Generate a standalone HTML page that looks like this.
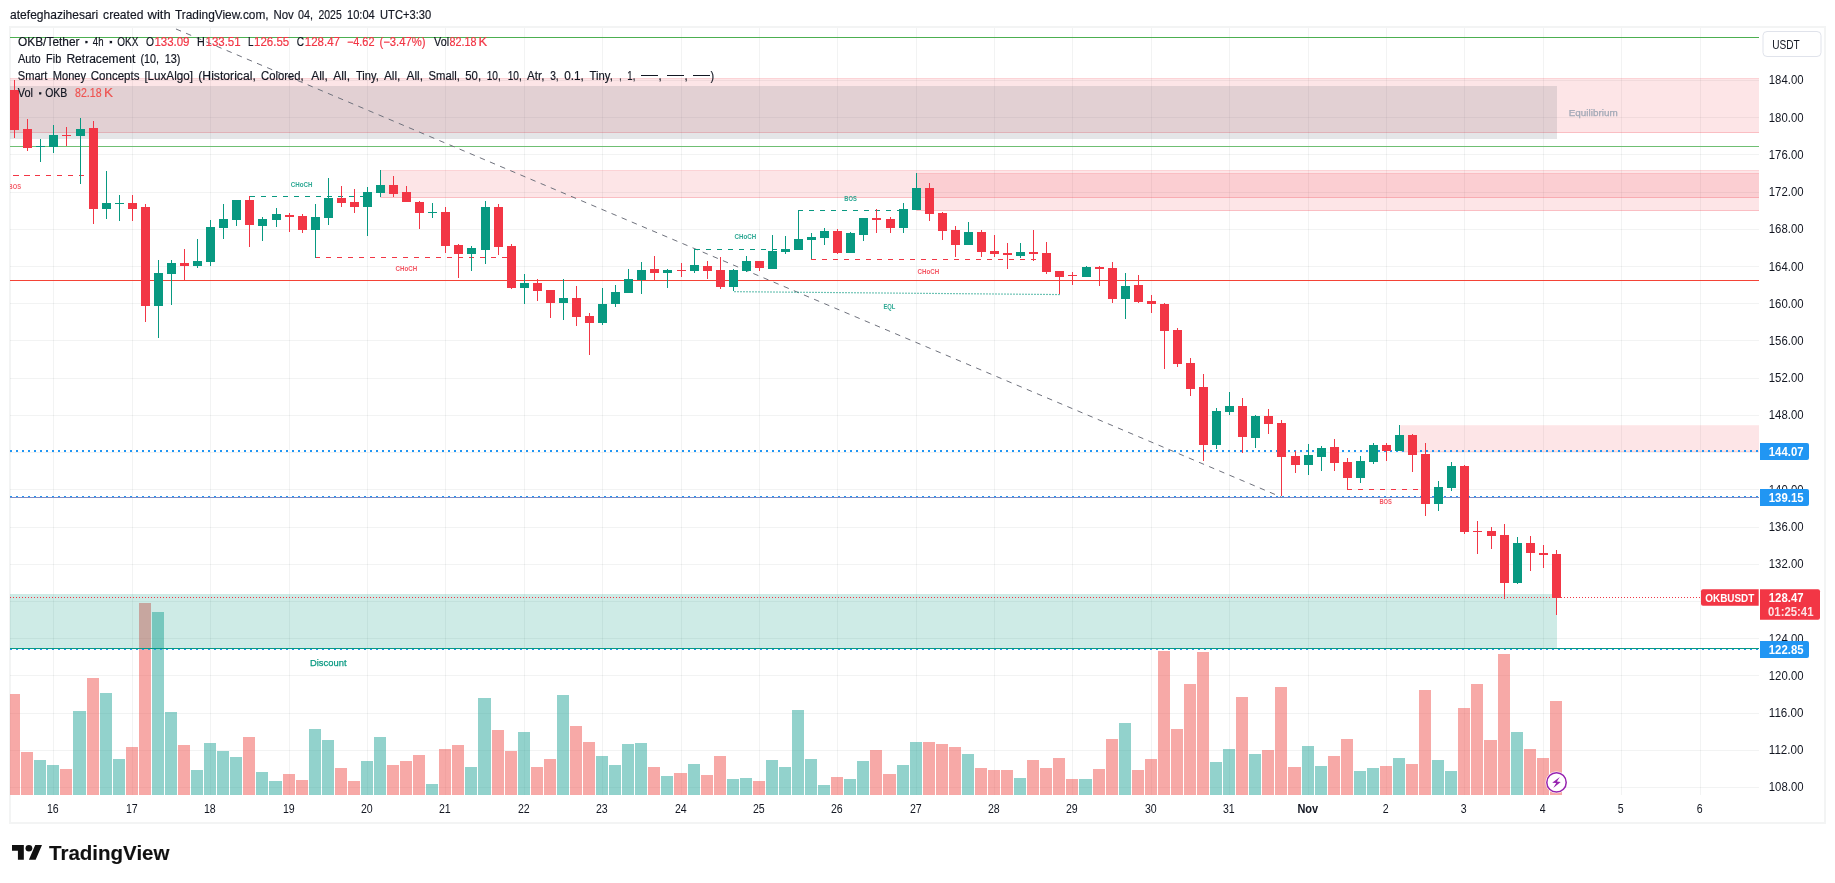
<!DOCTYPE html>
<html><head><meta charset="utf-8"><title>OKBUSDT chart</title>
<style>
html,body{margin:0;padding:0;background:#fff;}
body{width:1835px;height:883px;overflow:hidden;position:relative;font-family:"Liberation Sans",sans-serif;}
svg text{font-family:"Liberation Sans",sans-serif;}
</style></head><body>
<svg width="1835" height="883" viewBox="0 0 1835 883" style="position:absolute;left:0;top:0;will-change:transform">
<defs><clipPath id="pane"><rect x="10" y="28" width="1749" height="767"/></clipPath></defs>
<rect width="1835" height="883" fill="#fff"/>
<rect x="10" y="27" width="1815" height="796" fill="none" stroke="#f3f4f4" stroke-width="2" shape-rendering="crispEdges"/>
<g shape-rendering="crispEdges" stroke="#1e3232" stroke-opacity="0.058" stroke-width="1">
<line x1="10" y1="787.5" x2="1759" y2="787.5"/>
<line x1="10" y1="750.5" x2="1759" y2="750.5"/>
<line x1="10" y1="713.5" x2="1759" y2="713.5"/>
<line x1="10" y1="675.5" x2="1759" y2="675.5"/>
<line x1="10" y1="638.5" x2="1759" y2="638.5"/>
<line x1="10" y1="601.5" x2="1759" y2="601.5"/>
<line x1="10" y1="564.5" x2="1759" y2="564.5"/>
<line x1="10" y1="527.5" x2="1759" y2="527.5"/>
<line x1="10" y1="489.5" x2="1759" y2="489.5"/>
<line x1="10" y1="452.5" x2="1759" y2="452.5"/>
<line x1="10" y1="415.5" x2="1759" y2="415.5"/>
<line x1="10" y1="378.5" x2="1759" y2="378.5"/>
<line x1="10" y1="340.5" x2="1759" y2="340.5"/>
<line x1="10" y1="303.5" x2="1759" y2="303.5"/>
<line x1="10" y1="266.5" x2="1759" y2="266.5"/>
<line x1="10" y1="229.5" x2="1759" y2="229.5"/>
<line x1="10" y1="192.5" x2="1759" y2="192.5"/>
<line x1="10" y1="154.5" x2="1759" y2="154.5"/>
<line x1="10" y1="117.5" x2="1759" y2="117.5"/>
<line x1="10" y1="80.5" x2="1759" y2="80.5"/>
<line x1="53.5" y1="28" x2="53.5" y2="795"/>
<line x1="132.5" y1="28" x2="132.5" y2="795"/>
<line x1="210.5" y1="28" x2="210.5" y2="795"/>
<line x1="289.5" y1="28" x2="289.5" y2="795"/>
<line x1="367.5" y1="28" x2="367.5" y2="795"/>
<line x1="445.5" y1="28" x2="445.5" y2="795"/>
<line x1="524.5" y1="28" x2="524.5" y2="795"/>
<line x1="602.5" y1="28" x2="602.5" y2="795"/>
<line x1="681.5" y1="28" x2="681.5" y2="795"/>
<line x1="759.5" y1="28" x2="759.5" y2="795"/>
<line x1="837.5" y1="28" x2="837.5" y2="795"/>
<line x1="916.5" y1="28" x2="916.5" y2="795"/>
<line x1="994.5" y1="28" x2="994.5" y2="795"/>
<line x1="1072.5" y1="28" x2="1072.5" y2="795"/>
<line x1="1151.5" y1="28" x2="1151.5" y2="795"/>
<line x1="1229.5" y1="28" x2="1229.5" y2="795"/>
<line x1="1308.5" y1="28" x2="1308.5" y2="795"/>
<line x1="1386.5" y1="28" x2="1386.5" y2="795"/>
<line x1="1464.5" y1="28" x2="1464.5" y2="795"/>
<line x1="1543.5" y1="28" x2="1543.5" y2="795"/>
<line x1="1621.5" y1="28" x2="1621.5" y2="795"/>
<line x1="1700.5" y1="28" x2="1700.5" y2="795"/>
</g>
<g clip-path="url(#pane)">
<g shape-rendering="crispEdges">
<rect x="8" y="694" width="12" height="101" fill="rgba(239,83,80,0.5)"/>
<rect x="21" y="752" width="12" height="43" fill="rgba(239,83,80,0.5)"/>
<rect x="34" y="760" width="12" height="35" fill="rgba(38,166,154,0.5)"/>
<rect x="47" y="765" width="12" height="30" fill="rgba(38,166,154,0.5)"/>
<rect x="60" y="769" width="12" height="26" fill="rgba(239,83,80,0.5)"/>
<rect x="73" y="711" width="13" height="84" fill="rgba(38,166,154,0.5)"/>
<rect x="87" y="678" width="12" height="117" fill="rgba(239,83,80,0.5)"/>
<rect x="100" y="693" width="12" height="102" fill="rgba(38,166,154,0.5)"/>
<rect x="113" y="759" width="12" height="36" fill="rgba(38,166,154,0.5)"/>
<rect x="126" y="747" width="12" height="48" fill="rgba(239,83,80,0.5)"/>
<rect x="139" y="603" width="12" height="192" fill="rgba(239,83,80,0.5)"/>
<rect x="152" y="612" width="12" height="183" fill="rgba(38,166,154,0.5)"/>
<rect x="165" y="712" width="12" height="83" fill="rgba(38,166,154,0.5)"/>
<rect x="178" y="745" width="12" height="50" fill="rgba(239,83,80,0.5)"/>
<rect x="191" y="770" width="12" height="25" fill="rgba(38,166,154,0.5)"/>
<rect x="204" y="743" width="12" height="52" fill="rgba(38,166,154,0.5)"/>
<rect x="217" y="751" width="12" height="44" fill="rgba(38,166,154,0.5)"/>
<rect x="230" y="757" width="12" height="38" fill="rgba(38,166,154,0.5)"/>
<rect x="243" y="737" width="12" height="58" fill="rgba(239,83,80,0.5)"/>
<rect x="256" y="772" width="12" height="23" fill="rgba(38,166,154,0.5)"/>
<rect x="269" y="781" width="13" height="14" fill="rgba(38,166,154,0.5)"/>
<rect x="283" y="774" width="12" height="21" fill="rgba(239,83,80,0.5)"/>
<rect x="296" y="780" width="12" height="15" fill="rgba(239,83,80,0.5)"/>
<rect x="309" y="729" width="12" height="66" fill="rgba(38,166,154,0.5)"/>
<rect x="322" y="740" width="12" height="55" fill="rgba(38,166,154,0.5)"/>
<rect x="335" y="768" width="12" height="27" fill="rgba(239,83,80,0.5)"/>
<rect x="348" y="781" width="12" height="14" fill="rgba(239,83,80,0.5)"/>
<rect x="361" y="761" width="12" height="34" fill="rgba(38,166,154,0.5)"/>
<rect x="374" y="737" width="12" height="58" fill="rgba(38,166,154,0.5)"/>
<rect x="387" y="765" width="12" height="30" fill="rgba(239,83,80,0.5)"/>
<rect x="400" y="761" width="12" height="34" fill="rgba(239,83,80,0.5)"/>
<rect x="413" y="755" width="12" height="40" fill="rgba(239,83,80,0.5)"/>
<rect x="426" y="784" width="12" height="11" fill="rgba(38,166,154,0.5)"/>
<rect x="439" y="749" width="12" height="46" fill="rgba(239,83,80,0.5)"/>
<rect x="452" y="745" width="12" height="50" fill="rgba(239,83,80,0.5)"/>
<rect x="465" y="767" width="12" height="28" fill="rgba(38,166,154,0.5)"/>
<rect x="478" y="698" width="13" height="97" fill="rgba(38,166,154,0.5)"/>
<rect x="492" y="730" width="12" height="65" fill="rgba(239,83,80,0.5)"/>
<rect x="505" y="751" width="12" height="44" fill="rgba(239,83,80,0.5)"/>
<rect x="518" y="732" width="12" height="63" fill="rgba(38,166,154,0.5)"/>
<rect x="531" y="767" width="12" height="28" fill="rgba(239,83,80,0.5)"/>
<rect x="544" y="759" width="12" height="36" fill="rgba(239,83,80,0.5)"/>
<rect x="557" y="695" width="12" height="100" fill="rgba(38,166,154,0.5)"/>
<rect x="570" y="726" width="12" height="69" fill="rgba(239,83,80,0.5)"/>
<rect x="583" y="742" width="12" height="53" fill="rgba(239,83,80,0.5)"/>
<rect x="596" y="756" width="12" height="39" fill="rgba(38,166,154,0.5)"/>
<rect x="609" y="765" width="12" height="30" fill="rgba(38,166,154,0.5)"/>
<rect x="622" y="744" width="12" height="51" fill="rgba(38,166,154,0.5)"/>
<rect x="635" y="743" width="12" height="52" fill="rgba(38,166,154,0.5)"/>
<rect x="648" y="767" width="12" height="28" fill="rgba(239,83,80,0.5)"/>
<rect x="661" y="776" width="12" height="19" fill="rgba(38,166,154,0.5)"/>
<rect x="674" y="773" width="13" height="22" fill="rgba(239,83,80,0.5)"/>
<rect x="688" y="764" width="12" height="31" fill="rgba(38,166,154,0.5)"/>
<rect x="701" y="775" width="12" height="20" fill="rgba(239,83,80,0.5)"/>
<rect x="714" y="756" width="12" height="39" fill="rgba(239,83,80,0.5)"/>
<rect x="727" y="779" width="12" height="16" fill="rgba(38,166,154,0.5)"/>
<rect x="740" y="778" width="12" height="17" fill="rgba(38,166,154,0.5)"/>
<rect x="753" y="781" width="12" height="14" fill="rgba(239,83,80,0.5)"/>
<rect x="766" y="760" width="12" height="35" fill="rgba(38,166,154,0.5)"/>
<rect x="779" y="767" width="12" height="28" fill="rgba(38,166,154,0.5)"/>
<rect x="792" y="710" width="12" height="85" fill="rgba(38,166,154,0.5)"/>
<rect x="805" y="759" width="12" height="36" fill="rgba(38,166,154,0.5)"/>
<rect x="818" y="785" width="12" height="10" fill="rgba(38,166,154,0.5)"/>
<rect x="831" y="777" width="12" height="18" fill="rgba(239,83,80,0.5)"/>
<rect x="844" y="779" width="12" height="16" fill="rgba(38,166,154,0.5)"/>
<rect x="857" y="761" width="12" height="34" fill="rgba(38,166,154,0.5)"/>
<rect x="870" y="750" width="12" height="45" fill="rgba(239,83,80,0.5)"/>
<rect x="883" y="774" width="13" height="21" fill="rgba(239,83,80,0.5)"/>
<rect x="897" y="765" width="12" height="30" fill="rgba(38,166,154,0.5)"/>
<rect x="910" y="742" width="12" height="53" fill="rgba(38,166,154,0.5)"/>
<rect x="923" y="742" width="12" height="53" fill="rgba(239,83,80,0.5)"/>
<rect x="936" y="744" width="12" height="51" fill="rgba(239,83,80,0.5)"/>
<rect x="949" y="747" width="12" height="48" fill="rgba(239,83,80,0.5)"/>
<rect x="962" y="754" width="12" height="41" fill="rgba(38,166,154,0.5)"/>
<rect x="975" y="768" width="12" height="27" fill="rgba(239,83,80,0.5)"/>
<rect x="988" y="770" width="12" height="25" fill="rgba(239,83,80,0.5)"/>
<rect x="1001" y="770" width="12" height="25" fill="rgba(239,83,80,0.5)"/>
<rect x="1014" y="778" width="12" height="17" fill="rgba(38,166,154,0.5)"/>
<rect x="1027" y="760" width="12" height="35" fill="rgba(239,83,80,0.5)"/>
<rect x="1040" y="768" width="12" height="27" fill="rgba(239,83,80,0.5)"/>
<rect x="1053" y="758" width="12" height="37" fill="rgba(239,83,80,0.5)"/>
<rect x="1066" y="779" width="12" height="16" fill="rgba(239,83,80,0.5)"/>
<rect x="1079" y="779" width="13" height="16" fill="rgba(38,166,154,0.5)"/>
<rect x="1093" y="769" width="12" height="26" fill="rgba(239,83,80,0.5)"/>
<rect x="1106" y="739" width="12" height="56" fill="rgba(239,83,80,0.5)"/>
<rect x="1119" y="723" width="12" height="72" fill="rgba(38,166,154,0.5)"/>
<rect x="1132" y="770" width="12" height="25" fill="rgba(239,83,80,0.5)"/>
<rect x="1145" y="759" width="12" height="36" fill="rgba(239,83,80,0.5)"/>
<rect x="1158" y="651" width="12" height="144" fill="rgba(239,83,80,0.5)"/>
<rect x="1171" y="729" width="12" height="66" fill="rgba(239,83,80,0.5)"/>
<rect x="1184" y="684" width="12" height="111" fill="rgba(239,83,80,0.5)"/>
<rect x="1197" y="652" width="12" height="143" fill="rgba(239,83,80,0.5)"/>
<rect x="1210" y="762" width="12" height="33" fill="rgba(38,166,154,0.5)"/>
<rect x="1223" y="749" width="12" height="46" fill="rgba(38,166,154,0.5)"/>
<rect x="1236" y="697" width="12" height="98" fill="rgba(239,83,80,0.5)"/>
<rect x="1249" y="754" width="12" height="41" fill="rgba(38,166,154,0.5)"/>
<rect x="1262" y="750" width="12" height="45" fill="rgba(239,83,80,0.5)"/>
<rect x="1275" y="687" width="12" height="108" fill="rgba(239,83,80,0.5)"/>
<rect x="1288" y="767" width="13" height="28" fill="rgba(239,83,80,0.5)"/>
<rect x="1302" y="746" width="12" height="49" fill="rgba(38,166,154,0.5)"/>
<rect x="1315" y="766" width="12" height="29" fill="rgba(38,166,154,0.5)"/>
<rect x="1328" y="756" width="12" height="39" fill="rgba(239,83,80,0.5)"/>
<rect x="1341" y="739" width="12" height="56" fill="rgba(239,83,80,0.5)"/>
<rect x="1354" y="771" width="12" height="24" fill="rgba(38,166,154,0.5)"/>
<rect x="1367" y="768" width="12" height="27" fill="rgba(38,166,154,0.5)"/>
<rect x="1380" y="766" width="12" height="29" fill="rgba(239,83,80,0.5)"/>
<rect x="1393" y="758" width="12" height="37" fill="rgba(38,166,154,0.5)"/>
<rect x="1406" y="764" width="12" height="31" fill="rgba(239,83,80,0.5)"/>
<rect x="1419" y="690" width="12" height="105" fill="rgba(239,83,80,0.5)"/>
<rect x="1432" y="760" width="12" height="35" fill="rgba(38,166,154,0.5)"/>
<rect x="1445" y="771" width="12" height="24" fill="rgba(38,166,154,0.5)"/>
<rect x="1458" y="708" width="12" height="87" fill="rgba(239,83,80,0.5)"/>
<rect x="1471" y="684" width="12" height="111" fill="rgba(239,83,80,0.5)"/>
<rect x="1484" y="740" width="13" height="55" fill="rgba(239,83,80,0.5)"/>
<rect x="1498" y="654" width="12" height="141" fill="rgba(239,83,80,0.5)"/>
<rect x="1511" y="732" width="12" height="63" fill="rgba(38,166,154,0.5)"/>
<rect x="1524" y="749" width="12" height="46" fill="rgba(239,83,80,0.5)"/>
<rect x="1537" y="758" width="12" height="37" fill="rgba(239,83,80,0.5)"/>
<rect x="1550" y="701" width="12" height="94" fill="rgba(239,83,80,0.5)"/>
</g>
<g shape-rendering="crispEdges">
<rect x="8" y="78.5" width="1751" height="54" fill="rgba(242,54,69,0.13)" stroke="rgba(242,54,69,0.22)" stroke-width="1"/>
<rect x="8" y="86" width="1549" height="53" fill="rgba(120,123,134,0.2)"/>
<rect x="380.5" y="170.5" width="1379.0" height="27" fill="rgba(242,54,69,0.13)" stroke="rgba(242,54,69,0.22)" stroke-width="1"/>
<rect x="916.5" y="173.5" width="843.0" height="37" fill="rgba(242,54,69,0.13)" stroke="rgba(242,54,69,0.22)" stroke-width="1"/>
<rect x="1400.5" y="425.5" width="359.0" height="26" fill="rgba(242,54,69,0.13)" stroke="rgba(242,54,69,0.1)" stroke-width="1"/>
<rect x="8" y="594" width="1549" height="55" fill="rgba(8,153,129,0.2)"/>
</g>
<g shape-rendering="crispEdges">
<line x1="10" y1="37.5" x2="1759" y2="37.5" stroke="#4caf50" stroke-width="1"/>
<line x1="10" y1="146.5" x2="1759" y2="146.5" stroke="#6fbf73" stroke-width="1"/>
<line x1="10" y1="280.5" x2="1759" y2="280.5" stroke="#f44336" stroke-width="1"/>
<line x1="10" y1="451" x2="1759" y2="451" stroke="#2196f3" stroke-width="2" stroke-dasharray="2 4"/>
<line x1="10" y1="497" x2="1759" y2="497" stroke="#2196f3" stroke-width="2" stroke-dasharray="2 4"/>
<line x1="10" y1="649" x2="1759" y2="649" stroke="#2196f3" stroke-width="2" stroke-dasharray="2 4"/>
<line x1="10" y1="648.5" x2="1759" y2="648.5" stroke="#089981" stroke-width="1"/>
<line x1="10" y1="497.5" x2="1759" y2="497.5" stroke="#7b8bc7" stroke-width="1"/>
</g>
<line x1="1281.5" y1="497.2" x2="172" y2="27.3" stroke="#6f727d" stroke-width="1" stroke-dasharray="5.5 5.5" stroke-dashoffset="3.9"/>
<line x1="84.0" y1="175.5" x2="10.0" y2="175.5" stroke="#f23645" stroke-width="1" stroke-dasharray="5.45 5.45" shape-rendering="crispEdges"/>
<line x1="250.0" y1="196.5" x2="371.0" y2="196.5" stroke="#089981" stroke-width="1" stroke-dasharray="5 6" shape-rendering="crispEdges"/>
<line x1="314.5" y1="257.5" x2="511.0" y2="257.5" stroke="#f23645" stroke-width="1" stroke-dasharray="5 6" shape-rendering="crispEdges"/>
<line x1="694.5" y1="249.5" x2="798.0" y2="249.5" stroke="#089981" stroke-width="1" stroke-dasharray="5 6" shape-rendering="crispEdges"/>
<line x1="797.5" y1="210.5" x2="907.0" y2="210.5" stroke="#089981" stroke-width="1" stroke-dasharray="5 6" shape-rendering="crispEdges"/>
<line x1="810.5" y1="259.5" x2="1046.0" y2="259.5" stroke="#f23645" stroke-width="1" stroke-dasharray="5 6" shape-rendering="crispEdges"/>
<line x1="1346.5" y1="489.5" x2="1425.0" y2="489.5" stroke="#f23645" stroke-width="1" stroke-dasharray="5 6" shape-rendering="crispEdges"/>
<rect x="734" y="291.10" width="2" height="1.15" fill="#089981" opacity="0.6"/>
<rect x="737" y="291.13" width="2" height="1.15" fill="#089981" opacity="0.6"/>
<rect x="740" y="291.16" width="2" height="1.15" fill="#089981" opacity="0.6"/>
<rect x="743" y="291.18" width="2" height="1.15" fill="#089981" opacity="0.6"/>
<rect x="746" y="291.21" width="2" height="1.15" fill="#089981" opacity="0.6"/>
<rect x="749" y="291.24" width="2" height="1.15" fill="#089981" opacity="0.6"/>
<rect x="752" y="291.26" width="2" height="1.15" fill="#089981" opacity="0.6"/>
<rect x="755" y="291.29" width="2" height="1.15" fill="#089981" opacity="0.6"/>
<rect x="758" y="291.32" width="2" height="1.15" fill="#089981" opacity="0.6"/>
<rect x="761" y="291.34" width="2" height="1.15" fill="#089981" opacity="0.6"/>
<rect x="764" y="291.37" width="2" height="1.15" fill="#089981" opacity="0.6"/>
<rect x="767" y="291.40" width="2" height="1.15" fill="#089981" opacity="0.6"/>
<rect x="770" y="291.42" width="2" height="1.15" fill="#089981" opacity="0.6"/>
<rect x="773" y="291.45" width="2" height="1.15" fill="#089981" opacity="0.6"/>
<rect x="776" y="291.48" width="2" height="1.15" fill="#089981" opacity="0.6"/>
<rect x="779" y="291.50" width="2" height="1.15" fill="#089981" opacity="0.6"/>
<rect x="782" y="291.53" width="2" height="1.15" fill="#089981" opacity="0.6"/>
<rect x="785" y="291.56" width="2" height="1.15" fill="#089981" opacity="0.6"/>
<rect x="788" y="291.58" width="2" height="1.15" fill="#089981" opacity="0.6"/>
<rect x="791" y="291.61" width="2" height="1.15" fill="#089981" opacity="0.6"/>
<rect x="794" y="291.64" width="2" height="1.15" fill="#089981" opacity="0.6"/>
<rect x="797" y="291.66" width="2" height="1.15" fill="#089981" opacity="0.6"/>
<rect x="800" y="291.69" width="2" height="1.15" fill="#089981" opacity="0.6"/>
<rect x="803" y="291.72" width="2" height="1.15" fill="#089981" opacity="0.6"/>
<rect x="806" y="291.74" width="2" height="1.15" fill="#089981" opacity="0.6"/>
<rect x="809" y="291.77" width="2" height="1.15" fill="#089981" opacity="0.6"/>
<rect x="812" y="291.80" width="2" height="1.15" fill="#089981" opacity="0.6"/>
<rect x="815" y="291.82" width="2" height="1.15" fill="#089981" opacity="0.6"/>
<rect x="818" y="291.85" width="2" height="1.15" fill="#089981" opacity="0.6"/>
<rect x="821" y="291.88" width="2" height="1.15" fill="#089981" opacity="0.6"/>
<rect x="824" y="291.90" width="2" height="1.15" fill="#089981" opacity="0.6"/>
<rect x="827" y="291.93" width="2" height="1.15" fill="#089981" opacity="0.6"/>
<rect x="830" y="291.96" width="2" height="1.15" fill="#089981" opacity="0.6"/>
<rect x="833" y="291.98" width="2" height="1.15" fill="#089981" opacity="0.6"/>
<rect x="836" y="292.01" width="2" height="1.15" fill="#089981" opacity="0.6"/>
<rect x="839" y="292.04" width="2" height="1.15" fill="#089981" opacity="0.6"/>
<rect x="842" y="292.06" width="2" height="1.15" fill="#089981" opacity="0.6"/>
<rect x="845" y="292.09" width="2" height="1.15" fill="#089981" opacity="0.6"/>
<rect x="848" y="292.12" width="2" height="1.15" fill="#089981" opacity="0.6"/>
<rect x="851" y="292.14" width="2" height="1.15" fill="#089981" opacity="0.6"/>
<rect x="854" y="292.17" width="2" height="1.15" fill="#089981" opacity="0.6"/>
<rect x="857" y="292.20" width="2" height="1.15" fill="#089981" opacity="0.6"/>
<rect x="860" y="292.22" width="2" height="1.15" fill="#089981" opacity="0.6"/>
<rect x="863" y="292.25" width="2" height="1.15" fill="#089981" opacity="0.6"/>
<rect x="866" y="292.28" width="2" height="1.15" fill="#089981" opacity="0.6"/>
<rect x="869" y="292.30" width="2" height="1.15" fill="#089981" opacity="0.6"/>
<rect x="872" y="292.33" width="2" height="1.15" fill="#089981" opacity="0.6"/>
<rect x="875" y="292.36" width="2" height="1.15" fill="#089981" opacity="0.6"/>
<rect x="878" y="292.38" width="2" height="1.15" fill="#089981" opacity="0.6"/>
<rect x="881" y="292.41" width="2" height="1.15" fill="#089981" opacity="0.6"/>
<rect x="884" y="292.44" width="2" height="1.15" fill="#089981" opacity="0.6"/>
<rect x="887" y="292.46" width="2" height="1.15" fill="#089981" opacity="0.6"/>
<rect x="890" y="292.49" width="2" height="1.15" fill="#089981" opacity="0.6"/>
<rect x="893" y="292.52" width="2" height="1.15" fill="#089981" opacity="0.6"/>
<rect x="896" y="292.54" width="2" height="1.15" fill="#089981" opacity="0.6"/>
<rect x="899" y="292.57" width="2" height="1.15" fill="#089981" opacity="0.6"/>
<rect x="902" y="292.60" width="2" height="1.15" fill="#089981" opacity="0.6"/>
<rect x="905" y="292.62" width="2" height="1.15" fill="#089981" opacity="0.6"/>
<rect x="908" y="292.65" width="2" height="1.15" fill="#089981" opacity="0.6"/>
<rect x="911" y="292.68" width="2" height="1.15" fill="#089981" opacity="0.6"/>
<rect x="914" y="292.70" width="2" height="1.15" fill="#089981" opacity="0.6"/>
<rect x="917" y="292.73" width="2" height="1.15" fill="#089981" opacity="0.6"/>
<rect x="920" y="292.76" width="2" height="1.15" fill="#089981" opacity="0.6"/>
<rect x="923" y="292.78" width="2" height="1.15" fill="#089981" opacity="0.6"/>
<rect x="926" y="292.81" width="2" height="1.15" fill="#089981" opacity="0.6"/>
<rect x="929" y="292.84" width="2" height="1.15" fill="#089981" opacity="0.6"/>
<rect x="932" y="292.86" width="2" height="1.15" fill="#089981" opacity="0.6"/>
<rect x="935" y="292.89" width="2" height="1.15" fill="#089981" opacity="0.6"/>
<rect x="938" y="292.92" width="2" height="1.15" fill="#089981" opacity="0.6"/>
<rect x="941" y="292.94" width="2" height="1.15" fill="#089981" opacity="0.6"/>
<rect x="944" y="292.97" width="2" height="1.15" fill="#089981" opacity="0.6"/>
<rect x="947" y="293.00" width="2" height="1.15" fill="#089981" opacity="0.6"/>
<rect x="950" y="293.02" width="2" height="1.15" fill="#089981" opacity="0.6"/>
<rect x="953" y="293.05" width="2" height="1.15" fill="#089981" opacity="0.6"/>
<rect x="956" y="293.08" width="2" height="1.15" fill="#089981" opacity="0.6"/>
<rect x="959" y="293.10" width="2" height="1.15" fill="#089981" opacity="0.6"/>
<rect x="962" y="293.13" width="2" height="1.15" fill="#089981" opacity="0.6"/>
<rect x="965" y="293.16" width="2" height="1.15" fill="#089981" opacity="0.6"/>
<rect x="968" y="293.18" width="2" height="1.15" fill="#089981" opacity="0.6"/>
<rect x="971" y="293.21" width="2" height="1.15" fill="#089981" opacity="0.6"/>
<rect x="974" y="293.24" width="2" height="1.15" fill="#089981" opacity="0.6"/>
<rect x="977" y="293.26" width="2" height="1.15" fill="#089981" opacity="0.6"/>
<rect x="980" y="293.29" width="2" height="1.15" fill="#089981" opacity="0.6"/>
<rect x="983" y="293.32" width="2" height="1.15" fill="#089981" opacity="0.6"/>
<rect x="986" y="293.34" width="2" height="1.15" fill="#089981" opacity="0.6"/>
<rect x="989" y="293.37" width="2" height="1.15" fill="#089981" opacity="0.6"/>
<rect x="992" y="293.40" width="2" height="1.15" fill="#089981" opacity="0.6"/>
<rect x="995" y="293.42" width="2" height="1.15" fill="#089981" opacity="0.6"/>
<rect x="998" y="293.45" width="2" height="1.15" fill="#089981" opacity="0.6"/>
<rect x="1001" y="293.48" width="2" height="1.15" fill="#089981" opacity="0.6"/>
<rect x="1004" y="293.50" width="2" height="1.15" fill="#089981" opacity="0.6"/>
<rect x="1007" y="293.53" width="2" height="1.15" fill="#089981" opacity="0.6"/>
<rect x="1010" y="293.56" width="2" height="1.15" fill="#089981" opacity="0.6"/>
<rect x="1013" y="293.58" width="2" height="1.15" fill="#089981" opacity="0.6"/>
<rect x="1016" y="293.61" width="2" height="1.15" fill="#089981" opacity="0.6"/>
<rect x="1019" y="293.64" width="2" height="1.15" fill="#089981" opacity="0.6"/>
<rect x="1022" y="293.66" width="2" height="1.15" fill="#089981" opacity="0.6"/>
<rect x="1025" y="293.69" width="2" height="1.15" fill="#089981" opacity="0.6"/>
<rect x="1028" y="293.72" width="2" height="1.15" fill="#089981" opacity="0.6"/>
<rect x="1031" y="293.74" width="2" height="1.15" fill="#089981" opacity="0.6"/>
<rect x="1034" y="293.77" width="2" height="1.15" fill="#089981" opacity="0.6"/>
<rect x="1037" y="293.80" width="2" height="1.15" fill="#089981" opacity="0.6"/>
<rect x="1040" y="293.82" width="2" height="1.15" fill="#089981" opacity="0.6"/>
<rect x="1043" y="293.85" width="2" height="1.15" fill="#089981" opacity="0.6"/>
<rect x="1046" y="293.88" width="2" height="1.15" fill="#089981" opacity="0.6"/>
<rect x="1049" y="293.90" width="2" height="1.15" fill="#089981" opacity="0.6"/>
<rect x="1052" y="293.93" width="2" height="1.15" fill="#089981" opacity="0.6"/>
<rect x="1055" y="293.96" width="2" height="1.15" fill="#089981" opacity="0.6"/>
<rect x="1058" y="293.98" width="2" height="1.15" fill="#089981" opacity="0.6"/>
<g shape-rendering="crispEdges">
<rect x="14" y="80" width="1" height="58" fill="#f23645"/>
<rect x="10" y="90" width="9" height="40" fill="#f23645"/>
<rect x="27" y="119" width="1" height="32" fill="#f23645"/>
<rect x="23" y="129" width="9" height="19" fill="#f23645"/>
<rect x="40" y="139" width="1" height="23" fill="#089981"/>
<rect x="36" y="146" width="9" height="1" fill="#089981"/>
<rect x="53" y="125" width="1" height="28" fill="#089981"/>
<rect x="49" y="135" width="9" height="12" fill="#089981"/>
<rect x="66" y="127" width="1" height="19" fill="#f23645"/>
<rect x="62" y="135" width="9" height="1" fill="#f23645"/>
<rect x="80" y="118" width="1" height="66" fill="#089981"/>
<rect x="76" y="129" width="9" height="7" fill="#089981"/>
<rect x="93" y="121" width="1" height="103" fill="#f23645"/>
<rect x="89" y="128" width="9" height="81" fill="#f23645"/>
<rect x="106" y="171" width="1" height="48" fill="#089981"/>
<rect x="102" y="203" width="9" height="6" fill="#089981"/>
<rect x="119" y="195" width="1" height="26" fill="#089981"/>
<rect x="115" y="203" width="9" height="1" fill="#089981"/>
<rect x="132" y="195" width="1" height="26" fill="#f23645"/>
<rect x="128" y="203" width="9" height="6" fill="#f23645"/>
<rect x="145" y="204" width="1" height="118" fill="#f23645"/>
<rect x="141" y="207" width="9" height="99" fill="#f23645"/>
<rect x="158" y="260" width="1" height="78" fill="#089981"/>
<rect x="154" y="273" width="9" height="33" fill="#089981"/>
<rect x="171" y="260" width="1" height="45" fill="#089981"/>
<rect x="167" y="263" width="9" height="11" fill="#089981"/>
<rect x="184" y="249" width="1" height="31" fill="#f23645"/>
<rect x="180" y="263" width="9" height="3" fill="#f23645"/>
<rect x="197" y="239" width="1" height="29" fill="#089981"/>
<rect x="193" y="261" width="9" height="5" fill="#089981"/>
<rect x="210" y="220" width="1" height="46" fill="#089981"/>
<rect x="206" y="227" width="9" height="35" fill="#089981"/>
<rect x="223" y="204" width="1" height="35" fill="#089981"/>
<rect x="219" y="219" width="9" height="9" fill="#089981"/>
<rect x="236" y="200" width="1" height="26" fill="#089981"/>
<rect x="232" y="200" width="9" height="20" fill="#089981"/>
<rect x="249" y="196" width="1" height="51" fill="#f23645"/>
<rect x="245" y="200" width="9" height="25" fill="#f23645"/>
<rect x="262" y="217" width="1" height="24" fill="#089981"/>
<rect x="258" y="219" width="9" height="7" fill="#089981"/>
<rect x="276" y="208" width="1" height="19" fill="#089981"/>
<rect x="272" y="214" width="9" height="6" fill="#089981"/>
<rect x="289" y="213" width="1" height="19" fill="#f23645"/>
<rect x="285" y="215" width="9" height="2" fill="#f23645"/>
<rect x="302" y="214" width="1" height="19" fill="#f23645"/>
<rect x="298" y="216" width="9" height="14" fill="#f23645"/>
<rect x="315" y="204" width="1" height="54" fill="#089981"/>
<rect x="311" y="217" width="9" height="13" fill="#089981"/>
<rect x="328" y="178" width="1" height="47" fill="#089981"/>
<rect x="324" y="198" width="9" height="20" fill="#089981"/>
<rect x="341" y="186" width="1" height="21" fill="#f23645"/>
<rect x="337" y="198" width="9" height="5" fill="#f23645"/>
<rect x="354" y="189" width="1" height="24" fill="#f23645"/>
<rect x="350" y="202" width="9" height="5" fill="#f23645"/>
<rect x="367" y="187" width="1" height="49" fill="#089981"/>
<rect x="363" y="192" width="9" height="15" fill="#089981"/>
<rect x="380" y="170" width="1" height="27" fill="#089981"/>
<rect x="376" y="185" width="9" height="8" fill="#089981"/>
<rect x="393" y="176" width="1" height="21" fill="#f23645"/>
<rect x="389" y="185" width="9" height="9" fill="#f23645"/>
<rect x="406" y="186" width="1" height="16" fill="#f23645"/>
<rect x="402" y="192" width="9" height="10" fill="#f23645"/>
<rect x="419" y="201" width="1" height="28" fill="#f23645"/>
<rect x="415" y="202" width="9" height="11" fill="#f23645"/>
<rect x="432" y="203" width="1" height="15" fill="#089981"/>
<rect x="428" y="212" width="9" height="1" fill="#089981"/>
<rect x="445" y="207" width="1" height="46" fill="#f23645"/>
<rect x="441" y="212" width="9" height="34" fill="#f23645"/>
<rect x="458" y="244" width="1" height="34" fill="#f23645"/>
<rect x="454" y="245" width="9" height="9" fill="#f23645"/>
<rect x="471" y="246" width="1" height="25" fill="#089981"/>
<rect x="467" y="248" width="9" height="6" fill="#089981"/>
<rect x="485" y="201" width="1" height="63" fill="#089981"/>
<rect x="481" y="207" width="9" height="43" fill="#089981"/>
<rect x="498" y="204" width="1" height="51" fill="#f23645"/>
<rect x="494" y="207" width="9" height="40" fill="#f23645"/>
<rect x="511" y="244" width="1" height="45" fill="#f23645"/>
<rect x="507" y="246" width="9" height="42" fill="#f23645"/>
<rect x="524" y="274" width="1" height="30" fill="#089981"/>
<rect x="520" y="283" width="9" height="5" fill="#089981"/>
<rect x="537" y="279" width="1" height="22" fill="#f23645"/>
<rect x="533" y="283" width="9" height="8" fill="#f23645"/>
<rect x="550" y="290" width="1" height="28" fill="#f23645"/>
<rect x="546" y="290" width="9" height="13" fill="#f23645"/>
<rect x="563" y="279" width="1" height="41" fill="#089981"/>
<rect x="559" y="298" width="9" height="5" fill="#089981"/>
<rect x="576" y="286" width="1" height="40" fill="#f23645"/>
<rect x="572" y="298" width="9" height="19" fill="#f23645"/>
<rect x="589" y="313" width="1" height="42" fill="#f23645"/>
<rect x="585" y="316" width="9" height="7" fill="#f23645"/>
<rect x="602" y="288" width="1" height="37" fill="#089981"/>
<rect x="598" y="304" width="9" height="19" fill="#089981"/>
<rect x="615" y="285" width="1" height="22" fill="#089981"/>
<rect x="611" y="292" width="9" height="12" fill="#089981"/>
<rect x="628" y="269" width="1" height="24" fill="#089981"/>
<rect x="624" y="279" width="9" height="14" fill="#089981"/>
<rect x="641" y="262" width="1" height="32" fill="#089981"/>
<rect x="637" y="270" width="9" height="10" fill="#089981"/>
<rect x="654" y="256" width="1" height="24" fill="#f23645"/>
<rect x="650" y="269" width="9" height="4" fill="#f23645"/>
<rect x="667" y="269" width="1" height="19" fill="#089981"/>
<rect x="663" y="270" width="9" height="3" fill="#089981"/>
<rect x="681" y="263" width="1" height="14" fill="#f23645"/>
<rect x="677" y="270" width="9" height="1" fill="#f23645"/>
<rect x="694" y="249" width="1" height="24" fill="#089981"/>
<rect x="690" y="265" width="9" height="6" fill="#089981"/>
<rect x="707" y="261" width="1" height="18" fill="#f23645"/>
<rect x="703" y="266" width="9" height="5" fill="#f23645"/>
<rect x="720" y="257" width="1" height="32" fill="#f23645"/>
<rect x="716" y="270" width="9" height="17" fill="#f23645"/>
<rect x="733" y="269" width="1" height="22" fill="#089981"/>
<rect x="729" y="270" width="9" height="17" fill="#089981"/>
<rect x="746" y="256" width="1" height="16" fill="#089981"/>
<rect x="742" y="261" width="9" height="10" fill="#089981"/>
<rect x="759" y="261" width="1" height="10" fill="#f23645"/>
<rect x="755" y="261" width="9" height="7" fill="#f23645"/>
<rect x="772" y="235" width="1" height="34" fill="#089981"/>
<rect x="768" y="251" width="9" height="18" fill="#089981"/>
<rect x="785" y="236" width="1" height="18" fill="#089981"/>
<rect x="781" y="249" width="9" height="3" fill="#089981"/>
<rect x="798" y="210" width="1" height="40" fill="#089981"/>
<rect x="794" y="239" width="9" height="11" fill="#089981"/>
<rect x="811" y="233" width="1" height="26" fill="#089981"/>
<rect x="807" y="237" width="9" height="3" fill="#089981"/>
<rect x="824" y="228" width="1" height="17" fill="#089981"/>
<rect x="820" y="231" width="9" height="7" fill="#089981"/>
<rect x="837" y="229" width="1" height="25" fill="#f23645"/>
<rect x="833" y="231" width="9" height="22" fill="#f23645"/>
<rect x="850" y="232" width="1" height="21" fill="#089981"/>
<rect x="846" y="233" width="9" height="20" fill="#089981"/>
<rect x="863" y="218" width="1" height="23" fill="#089981"/>
<rect x="859" y="218" width="9" height="17" fill="#089981"/>
<rect x="876" y="209" width="1" height="24" fill="#f23645"/>
<rect x="872" y="218" width="9" height="2" fill="#f23645"/>
<rect x="890" y="217" width="1" height="16" fill="#f23645"/>
<rect x="886" y="219" width="9" height="9" fill="#f23645"/>
<rect x="903" y="203" width="1" height="30" fill="#089981"/>
<rect x="899" y="209" width="9" height="19" fill="#089981"/>
<rect x="916" y="173" width="1" height="37" fill="#089981"/>
<rect x="912" y="188" width="9" height="22" fill="#089981"/>
<rect x="929" y="183" width="1" height="38" fill="#f23645"/>
<rect x="925" y="188" width="9" height="26" fill="#f23645"/>
<rect x="942" y="212" width="1" height="28" fill="#f23645"/>
<rect x="938" y="213" width="9" height="18" fill="#f23645"/>
<rect x="955" y="226" width="1" height="31" fill="#f23645"/>
<rect x="951" y="230" width="9" height="15" fill="#f23645"/>
<rect x="968" y="222" width="1" height="23" fill="#089981"/>
<rect x="964" y="232" width="9" height="13" fill="#089981"/>
<rect x="981" y="230" width="1" height="27" fill="#f23645"/>
<rect x="977" y="232" width="9" height="20" fill="#f23645"/>
<rect x="994" y="235" width="1" height="22" fill="#f23645"/>
<rect x="990" y="251" width="9" height="3" fill="#f23645"/>
<rect x="1007" y="243" width="1" height="26" fill="#f23645"/>
<rect x="1003" y="253" width="9" height="2" fill="#f23645"/>
<rect x="1020" y="243" width="1" height="15" fill="#089981"/>
<rect x="1016" y="252" width="9" height="4" fill="#089981"/>
<rect x="1033" y="230" width="1" height="31" fill="#f23645"/>
<rect x="1029" y="252" width="9" height="2" fill="#f23645"/>
<rect x="1046" y="242" width="1" height="32" fill="#f23645"/>
<rect x="1042" y="253" width="9" height="19" fill="#f23645"/>
<rect x="1059" y="271" width="1" height="23" fill="#f23645"/>
<rect x="1055" y="271" width="9" height="6" fill="#f23645"/>
<rect x="1072" y="272" width="1" height="13" fill="#f23645"/>
<rect x="1068" y="275" width="9" height="1" fill="#f23645"/>
<rect x="1086" y="266" width="1" height="11" fill="#089981"/>
<rect x="1082" y="267" width="9" height="10" fill="#089981"/>
<rect x="1099" y="266" width="1" height="20" fill="#f23645"/>
<rect x="1095" y="267" width="9" height="2" fill="#f23645"/>
<rect x="1112" y="262" width="1" height="41" fill="#f23645"/>
<rect x="1108" y="268" width="9" height="31" fill="#f23645"/>
<rect x="1125" y="273" width="1" height="46" fill="#089981"/>
<rect x="1121" y="286" width="9" height="13" fill="#089981"/>
<rect x="1138" y="275" width="1" height="28" fill="#f23645"/>
<rect x="1134" y="285" width="9" height="17" fill="#f23645"/>
<rect x="1151" y="295" width="1" height="18" fill="#f23645"/>
<rect x="1147" y="301" width="9" height="3" fill="#f23645"/>
<rect x="1164" y="303" width="1" height="66" fill="#f23645"/>
<rect x="1160" y="304" width="9" height="27" fill="#f23645"/>
<rect x="1177" y="328" width="1" height="39" fill="#f23645"/>
<rect x="1173" y="330" width="9" height="34" fill="#f23645"/>
<rect x="1190" y="358" width="1" height="38" fill="#f23645"/>
<rect x="1186" y="363" width="9" height="26" fill="#f23645"/>
<rect x="1203" y="374" width="1" height="87" fill="#f23645"/>
<rect x="1199" y="387" width="9" height="58" fill="#f23645"/>
<rect x="1216" y="408" width="1" height="41" fill="#089981"/>
<rect x="1212" y="411" width="9" height="34" fill="#089981"/>
<rect x="1229" y="392" width="1" height="23" fill="#089981"/>
<rect x="1225" y="406" width="9" height="6" fill="#089981"/>
<rect x="1242" y="398" width="1" height="55" fill="#f23645"/>
<rect x="1238" y="406" width="9" height="31" fill="#f23645"/>
<rect x="1255" y="415" width="1" height="33" fill="#089981"/>
<rect x="1251" y="416" width="9" height="22" fill="#089981"/>
<rect x="1268" y="409" width="1" height="25" fill="#f23645"/>
<rect x="1264" y="416" width="9" height="8" fill="#f23645"/>
<rect x="1281" y="420" width="1" height="76" fill="#f23645"/>
<rect x="1277" y="423" width="9" height="34" fill="#f23645"/>
<rect x="1295" y="451" width="1" height="22" fill="#f23645"/>
<rect x="1291" y="456" width="9" height="9" fill="#f23645"/>
<rect x="1308" y="444" width="1" height="31" fill="#089981"/>
<rect x="1304" y="455" width="9" height="10" fill="#089981"/>
<rect x="1321" y="446" width="1" height="25" fill="#089981"/>
<rect x="1317" y="448" width="9" height="9" fill="#089981"/>
<rect x="1334" y="439" width="1" height="32" fill="#f23645"/>
<rect x="1330" y="447" width="9" height="16" fill="#f23645"/>
<rect x="1347" y="458" width="1" height="31" fill="#f23645"/>
<rect x="1343" y="462" width="9" height="16" fill="#f23645"/>
<rect x="1360" y="456" width="1" height="27" fill="#089981"/>
<rect x="1356" y="461" width="9" height="17" fill="#089981"/>
<rect x="1373" y="443" width="1" height="21" fill="#089981"/>
<rect x="1369" y="445" width="9" height="17" fill="#089981"/>
<rect x="1386" y="443" width="1" height="18" fill="#f23645"/>
<rect x="1382" y="445" width="9" height="6" fill="#f23645"/>
<rect x="1399" y="425" width="1" height="26" fill="#089981"/>
<rect x="1395" y="435" width="9" height="16" fill="#089981"/>
<rect x="1412" y="434" width="1" height="38" fill="#f23645"/>
<rect x="1408" y="435" width="9" height="20" fill="#f23645"/>
<rect x="1425" y="443" width="1" height="73" fill="#f23645"/>
<rect x="1421" y="454" width="9" height="50" fill="#f23645"/>
<rect x="1438" y="481" width="1" height="30" fill="#089981"/>
<rect x="1434" y="487" width="9" height="17" fill="#089981"/>
<rect x="1451" y="462" width="1" height="29" fill="#089981"/>
<rect x="1447" y="466" width="9" height="22" fill="#089981"/>
<rect x="1464" y="465" width="1" height="69" fill="#f23645"/>
<rect x="1460" y="466" width="9" height="66" fill="#f23645"/>
<rect x="1477" y="521" width="1" height="33" fill="#f23645"/>
<rect x="1473" y="531" width="9" height="1" fill="#f23645"/>
<rect x="1491" y="527" width="1" height="22" fill="#f23645"/>
<rect x="1487" y="531" width="9" height="5" fill="#f23645"/>
<rect x="1504" y="524" width="1" height="75" fill="#f23645"/>
<rect x="1500" y="535" width="9" height="48" fill="#f23645"/>
<rect x="1517" y="537" width="1" height="47" fill="#089981"/>
<rect x="1513" y="543" width="9" height="40" fill="#089981"/>
<rect x="1530" y="536" width="1" height="35" fill="#f23645"/>
<rect x="1526" y="543" width="9" height="10" fill="#f23645"/>
<rect x="1543" y="545" width="1" height="23" fill="#f23645"/>
<rect x="1539" y="553" width="9" height="2" fill="#f23645"/>
<rect x="1556" y="550" width="1" height="65" fill="#f23645"/>
<rect x="1552" y="554" width="9" height="44" fill="#f23645"/>
</g>
<line x1="10" y1="597.5" x2="1759" y2="597.5" stroke="#f23645" stroke-width="1" stroke-dasharray="1 2" shape-rendering="crispEdges"/>
</g>
<g clip-path="url(#pane)" font-family="'Liberation Sans', sans-serif">
<text x="14.8" y="189.0" font-size="7" font-weight="bold" fill="#f23645" text-anchor="middle" opacity="0.8" textLength="12.5" lengthAdjust="spacingAndGlyphs">BOS</text>
<text x="301.6" y="187.2" font-size="7" font-weight="bold" fill="#089981" text-anchor="middle" opacity="0.85" textLength="21.6" lengthAdjust="spacingAndGlyphs">CHoCH</text>
<text x="406.4" y="271.1" font-size="7" font-weight="bold" fill="#f23645" text-anchor="middle" opacity="0.85" textLength="21.6" lengthAdjust="spacingAndGlyphs">CHoCH</text>
<text x="745.3" y="239.1" font-size="7" font-weight="bold" fill="#089981" text-anchor="middle" opacity="0.85" textLength="21.6" lengthAdjust="spacingAndGlyphs">CHoCH</text>
<text x="850.6" y="201.3" font-size="7" font-weight="bold" fill="#089981" text-anchor="middle" opacity="0.85" textLength="12.5" lengthAdjust="spacingAndGlyphs">BOS</text>
<text x="928.3" y="274.2" font-size="7" font-weight="bold" fill="#f23645" text-anchor="middle" opacity="0.85" textLength="21.6" lengthAdjust="spacingAndGlyphs">CHoCH</text>
<text x="889.4" y="309.3" font-size="7" font-weight="bold" fill="#089981" text-anchor="middle" opacity="0.85" textLength="12.0" lengthAdjust="spacingAndGlyphs">EQL</text>
<text x="1385.7" y="504.3" font-size="7" font-weight="bold" fill="#f23645" text-anchor="middle" opacity="0.85" textLength="12.5" lengthAdjust="spacingAndGlyphs">BOS</text>
<text x="1568.7" y="116.0" font-size="9.8" font-weight="normal" fill="#a1a8b6" text-anchor="start" opacity="1" textLength="49.0" lengthAdjust="spacingAndGlyphs" stroke="#a1a8b6" stroke-width="0.25">Equilibrium</text>
<text x="310.0" y="666.2" font-size="9.8" font-weight="normal" fill="#089981" text-anchor="start" opacity="1" textLength="36.5" lengthAdjust="spacingAndGlyphs" stroke="#089981" stroke-width="0.25">Discount</text>
</g>
<g font-family="'Liberation Sans', sans-serif" font-size="12" fill="#131722">
<text x="1768.8" y="791.4" textLength="34.7" lengthAdjust="spacingAndGlyphs">108.00</text>
<text x="1768.8" y="754.2" textLength="34.7" lengthAdjust="spacingAndGlyphs">112.00</text>
<text x="1768.8" y="717.0" textLength="34.7" lengthAdjust="spacingAndGlyphs">116.00</text>
<text x="1768.8" y="679.8" textLength="34.7" lengthAdjust="spacingAndGlyphs">120.00</text>
<text x="1768.8" y="642.6" textLength="34.7" lengthAdjust="spacingAndGlyphs">124.00</text>
<text x="1768.8" y="605.3" textLength="34.7" lengthAdjust="spacingAndGlyphs">128.00</text>
<text x="1768.8" y="568.1" textLength="34.7" lengthAdjust="spacingAndGlyphs">132.00</text>
<text x="1768.8" y="530.9" textLength="34.7" lengthAdjust="spacingAndGlyphs">136.00</text>
<text x="1768.8" y="493.7" textLength="34.7" lengthAdjust="spacingAndGlyphs">140.00</text>
<text x="1768.8" y="456.5" textLength="34.7" lengthAdjust="spacingAndGlyphs">144.00</text>
<text x="1768.8" y="419.3" textLength="34.7" lengthAdjust="spacingAndGlyphs">148.00</text>
<text x="1768.8" y="382.1" textLength="34.7" lengthAdjust="spacingAndGlyphs">152.00</text>
<text x="1768.8" y="344.9" textLength="34.7" lengthAdjust="spacingAndGlyphs">156.00</text>
<text x="1768.8" y="307.7" textLength="34.7" lengthAdjust="spacingAndGlyphs">160.00</text>
<text x="1768.8" y="270.5" textLength="34.7" lengthAdjust="spacingAndGlyphs">164.00</text>
<text x="1768.8" y="233.2" textLength="34.7" lengthAdjust="spacingAndGlyphs">168.00</text>
<text x="1768.8" y="196.0" textLength="34.7" lengthAdjust="spacingAndGlyphs">172.00</text>
<text x="1768.8" y="158.8" textLength="34.7" lengthAdjust="spacingAndGlyphs">176.00</text>
<text x="1768.8" y="121.6" textLength="34.7" lengthAdjust="spacingAndGlyphs">180.00</text>
<text x="1768.8" y="83.8" textLength="34.7" lengthAdjust="spacingAndGlyphs">184.00</text>
</g>
<rect x="1763" y="31.5" width="58" height="25" rx="4" fill="#fff" stroke="#e0e3eb" stroke-width="1"/>
<text x="1772.3" y="48.8" font-family="'Liberation Sans', sans-serif" font-size="12" fill="#131722" textLength="27.5" lengthAdjust="spacingAndGlyphs">USDT</text>
<path d="M1760.0 442.9 H1807.0 Q1809.0 442.9 1809.0 444.9 V457.9 Q1809.0 459.9 1807.0 459.9 H1760.0 Z" fill="#2196f3"/>
<text x="1768.8" y="455.8" font-family="'Liberation Sans', sans-serif" font-size="12" font-weight="bold" fill="#fff" textLength="34.7" lengthAdjust="spacingAndGlyphs">144.07</text>
<path d="M1760.0 488.9 H1807.0 Q1809.0 488.9 1809.0 490.9 V503.9 Q1809.0 505.9 1807.0 505.9 H1760.0 Z" fill="#2196f3"/>
<text x="1768.8" y="501.8" font-family="'Liberation Sans', sans-serif" font-size="12" font-weight="bold" fill="#fff" textLength="34.7" lengthAdjust="spacingAndGlyphs">139.15</text>
<path d="M1760.0 640.9 H1807.0 Q1809.0 640.9 1809.0 642.9 V655.9 Q1809.0 657.9 1807.0 657.9 H1760.0 Z" fill="#2196f3"/>
<text x="1768.8" y="653.8" font-family="'Liberation Sans', sans-serif" font-size="12" font-weight="bold" fill="#fff" textLength="34.7" lengthAdjust="spacingAndGlyphs">122.85</text>
<path d="M1760.0 589.3 H1818.0 Q1820.0 589.3 1820.0 591.3 V617.8 Q1820.0 619.8 1818.0 619.8 H1760.0 Z" fill="#f23645"/>
<text x="1768.8" y="601.9" font-family="'Liberation Sans', sans-serif" font-size="12" font-weight="bold" fill="#fff" textLength="34.7" lengthAdjust="spacingAndGlyphs">128.47</text>
<text x="1768.0" y="615.6" font-family="'Liberation Sans', sans-serif" font-size="12" font-weight="bold" fill="#fff" opacity="0.85" textLength="45.5" lengthAdjust="spacingAndGlyphs">01:25:41</text>
<path d="M1758.7 589.3 H1703.0 Q1701.0 589.3 1701.0 591.3 V603.8 Q1701.0 605.8 1703.0 605.8 H1758.7 Z" fill="#f23645"/>
<text x="1705.3" y="601.7" font-family="'Liberation Sans', sans-serif" font-size="11" font-weight="bold" fill="#fff" textLength="49" lengthAdjust="spacingAndGlyphs">OKBUSDT</text>
<g font-family="'Liberation Sans', sans-serif" font-size="12" fill="#131722" text-anchor="middle">
<text x="52.8" y="813.2" textLength="11.8" lengthAdjust="spacingAndGlyphs">16</text>
<text x="131.8" y="813.2" textLength="11.8" lengthAdjust="spacingAndGlyphs">17</text>
<text x="209.8" y="813.2" textLength="11.8" lengthAdjust="spacingAndGlyphs">18</text>
<text x="288.8" y="813.2" textLength="11.8" lengthAdjust="spacingAndGlyphs">19</text>
<text x="366.8" y="813.2" textLength="11.8" lengthAdjust="spacingAndGlyphs">20</text>
<text x="444.8" y="813.2" textLength="11.8" lengthAdjust="spacingAndGlyphs">21</text>
<text x="523.8" y="813.2" textLength="11.8" lengthAdjust="spacingAndGlyphs">22</text>
<text x="601.8" y="813.2" textLength="11.8" lengthAdjust="spacingAndGlyphs">23</text>
<text x="680.8" y="813.2" textLength="11.8" lengthAdjust="spacingAndGlyphs">24</text>
<text x="758.8" y="813.2" textLength="11.8" lengthAdjust="spacingAndGlyphs">25</text>
<text x="836.8" y="813.2" textLength="11.8" lengthAdjust="spacingAndGlyphs">26</text>
<text x="915.8" y="813.2" textLength="11.8" lengthAdjust="spacingAndGlyphs">27</text>
<text x="993.8" y="813.2" textLength="11.8" lengthAdjust="spacingAndGlyphs">28</text>
<text x="1071.8" y="813.2" textLength="11.8" lengthAdjust="spacingAndGlyphs">29</text>
<text x="1150.8" y="813.2" textLength="11.8" lengthAdjust="spacingAndGlyphs">30</text>
<text x="1228.8" y="813.2" textLength="11.8" lengthAdjust="spacingAndGlyphs">31</text>
<text x="1307.8" y="813.2" font-weight="bold" textLength="20.7" lengthAdjust="spacingAndGlyphs">Nov</text>
<text x="1385.8" y="813.2" textLength="5.9" lengthAdjust="spacingAndGlyphs">2</text>
<text x="1463.8" y="813.2" textLength="5.9" lengthAdjust="spacingAndGlyphs">3</text>
<text x="1542.8" y="813.2" textLength="5.9" lengthAdjust="spacingAndGlyphs">4</text>
<text x="1620.8" y="813.2" textLength="5.9" lengthAdjust="spacingAndGlyphs">5</text>
<text x="1699.8" y="813.2" textLength="5.9" lengthAdjust="spacingAndGlyphs">6</text>
</g>
<circle cx="1556.5" cy="782.4" r="10.9" fill="#fff"/>
<circle cx="1556.5" cy="782.4" r="9.7" fill="#fff" stroke="#9623af" stroke-width="1.5"/>
<path d="M1559.8 777.1 L1552.2 782.7 L1556.2 783.1 L1553.3 788 L1560.7 782 L1556.9 781.6 Z" fill="#9623af"/>
<g font-family="'Liberation Sans', sans-serif" font-size="12" fill="#131722" stroke="#131722" stroke-width="0.18">
<text x="18.0" y="45.8" textLength="61.5" lengthAdjust="spacingAndGlyphs">OKB/Tether</text>
<text x="92.8" y="45.8" textLength="10.7" lengthAdjust="spacingAndGlyphs">4h</text>
<text x="117.3" y="45.8" textLength="21.0" lengthAdjust="spacingAndGlyphs">OKX</text>
<rect x="85.4" y="41.0" width="2.1" height="2.1" fill="#131722"/>
<rect x="109.9" y="41.0" width="2.1" height="2.1" fill="#131722"/>
<rect x="39.1" y="92.3" width="2.1" height="2.1" fill="#131722"/>
<text x="145.9" y="45.8" textLength="8.0" lengthAdjust="spacingAndGlyphs">O</text>
<text x="154.4" y="45.8" textLength="35.1" lengthAdjust="spacingAndGlyphs" fill="#f23645" stroke="#f23645">133.09</text>
<text x="197.0" y="45.8" textLength="7.8" lengthAdjust="spacingAndGlyphs">H</text>
<text x="205.5" y="45.8" textLength="35.1" lengthAdjust="spacingAndGlyphs" fill="#f23645" stroke="#f23645">133.51</text>
<text x="248.1" y="45.8" textLength="5.5" lengthAdjust="spacingAndGlyphs">L</text>
<text x="254.1" y="45.8" textLength="35.1" lengthAdjust="spacingAndGlyphs" fill="#f23645" stroke="#f23645">126.55</text>
<text x="296.7" y="45.8" textLength="7.3" lengthAdjust="spacingAndGlyphs">C</text>
<text x="304.8" y="45.8" textLength="35.1" lengthAdjust="spacingAndGlyphs" fill="#f23645" stroke="#f23645">128.47</text>
<text x="346.9" y="45.8" textLength="27.6" lengthAdjust="spacingAndGlyphs" fill="#f23645" stroke="#f23645">−4.62</text>
<text x="379.5" y="45.8" textLength="46.1" lengthAdjust="spacingAndGlyphs" fill="#f23645" stroke="#f23645">(−3.47%)</text>
<text x="434.1" y="45.8" textLength="15.0" lengthAdjust="spacingAndGlyphs">Vol</text>
<text x="449.6" y="45.8" textLength="26.9" lengthAdjust="spacingAndGlyphs" fill="#f23645" stroke="#f23645">82.18</text>
<text x="478.5" y="45.8" textLength="8.7" lengthAdjust="spacingAndGlyphs" fill="#f23645" stroke="#f23645">K</text>
<text x="18.0" y="62.8" textLength="22.6" lengthAdjust="spacingAndGlyphs">Auto</text>
<text x="46.1" y="62.8" textLength="15.1" lengthAdjust="spacingAndGlyphs">Fib</text>
<text x="66.4" y="62.8" textLength="69.0" lengthAdjust="spacingAndGlyphs">Retracement</text>
<text x="140.4" y="62.8" textLength="18.5" lengthAdjust="spacingAndGlyphs">(10,</text>
<text x="164.7" y="62.8" textLength="15.8" lengthAdjust="spacingAndGlyphs">13)</text>
<text x="17.8" y="79.7" textLength="29.5" lengthAdjust="spacingAndGlyphs">Smart</text>
<text x="52.8" y="79.7" textLength="33.3" lengthAdjust="spacingAndGlyphs">Money</text>
<text x="90.8" y="79.7" textLength="48.7" lengthAdjust="spacingAndGlyphs">Concepts</text>
<text x="144.4" y="79.7" textLength="48.5" lengthAdjust="spacingAndGlyphs">[LuxAlgo]</text>
<text x="198.3" y="79.7" textLength="57.5" lengthAdjust="spacingAndGlyphs">(Historical,</text>
<text x="261.1" y="79.7" textLength="42.6" lengthAdjust="spacingAndGlyphs">Colored,</text>
<text x="311.2" y="79.7" textLength="16.6" lengthAdjust="spacingAndGlyphs">All,</text>
<text x="333.3" y="79.7" textLength="16.7" lengthAdjust="spacingAndGlyphs">All,</text>
<text x="356.0" y="79.7" textLength="22.8" lengthAdjust="spacingAndGlyphs">Tiny,</text>
<text x="383.9" y="79.7" textLength="16.5" lengthAdjust="spacingAndGlyphs">All,</text>
<text x="406.5" y="79.7" textLength="16.5" lengthAdjust="spacingAndGlyphs">All,</text>
<text x="428.6" y="79.7" textLength="31.3" lengthAdjust="spacingAndGlyphs">Small,</text>
<text x="465.3" y="79.7" textLength="15.8" lengthAdjust="spacingAndGlyphs">50,</text>
<text x="486.7" y="79.7" textLength="14.1" lengthAdjust="spacingAndGlyphs">10,</text>
<text x="507.7" y="79.7" textLength="14.1" lengthAdjust="spacingAndGlyphs">10,</text>
<text x="527.0" y="79.7" textLength="17.6" lengthAdjust="spacingAndGlyphs">Atr,</text>
<text x="550.2" y="79.7" textLength="8.5" lengthAdjust="spacingAndGlyphs">3,</text>
<text x="564.2" y="79.7" textLength="19.7" lengthAdjust="spacingAndGlyphs">0.1,</text>
<text x="589.6" y="79.7" textLength="23.2" lengthAdjust="spacingAndGlyphs">Tiny,</text>
<text x="619.2" y="79.7" textLength="2.2" lengthAdjust="spacingAndGlyphs">,</text>
<text x="627.3" y="79.7" textLength="8.0" lengthAdjust="spacingAndGlyphs">1,</text>
<text x="658.4" y="79.7" textLength="3.2" lengthAdjust="spacingAndGlyphs">,</text>
<text x="684.6" y="79.7" textLength="3.2" lengthAdjust="spacingAndGlyphs">,</text>
<text x="710.4" y="79.7" textLength="3.6" lengthAdjust="spacingAndGlyphs">)</text>
<line x1="641.0" y1="75.5" x2="657.8" y2="75.5" stroke="#131722" stroke-width="1" shape-rendering="crispEdges"/>
<line x1="667.0" y1="75.5" x2="683.8" y2="75.5" stroke="#131722" stroke-width="1" shape-rendering="crispEdges"/>
<line x1="692.8" y1="75.5" x2="709.6" y2="75.5" stroke="#131722" stroke-width="1" shape-rendering="crispEdges"/>
<text x="17.8" y="96.8" textLength="15.2" lengthAdjust="spacingAndGlyphs">Vol</text>
<text x="45.2" y="96.8" textLength="22.1" lengthAdjust="spacingAndGlyphs">OKB</text>
<text x="75.1" y="96.8" textLength="26.4" lengthAdjust="spacingAndGlyphs" fill="#ef5350" stroke="#ef5350">82.18</text>
<text x="104.0" y="96.8" textLength="9.0" lengthAdjust="spacingAndGlyphs" fill="#ef5350" stroke="#ef5350">K</text>
</g>
<g font-family="'Liberation Sans', sans-serif" font-size="13" fill="#131722" stroke="#131722" stroke-width="0.18">
<text x="10.1" y="18.9" textLength="88.2" lengthAdjust="spacingAndGlyphs">atefeghazihesari</text>
<text x="103.1" y="18.9" textLength="40.3" lengthAdjust="spacingAndGlyphs">created</text>
<text x="147.5" y="18.9" textLength="23.2" lengthAdjust="spacingAndGlyphs">with</text>
<text x="175.0" y="18.9" textLength="93.6" lengthAdjust="spacingAndGlyphs">TradingView.com,</text>
<text x="273.4" y="18.9" textLength="20.4" lengthAdjust="spacingAndGlyphs">Nov</text>
<text x="298.0" y="18.9" textLength="15.0" lengthAdjust="spacingAndGlyphs">04,</text>
<text x="318.5" y="18.9" textLength="23.2" lengthAdjust="spacingAndGlyphs">2025</text>
<text x="347.0" y="18.9" textLength="27.8" lengthAdjust="spacingAndGlyphs">10:04</text>
<text x="380.0" y="18.9" textLength="51.2" lengthAdjust="spacingAndGlyphs">UTC+3:30</text>
</g>
<g transform="translate(12,841.7) scale(0.845,0.815)" fill="#111">
<path d="M14 22H7V11H0V4h14v18zM28 22h-8l7.5-18h8L28 22z"/><circle cx="20" cy="8" r="4"/>
</g>
<text x="49" y="859.7" font-family="'Liberation Sans', sans-serif" font-size="20" font-weight="bold" fill="#111" stroke="#111" stroke-width="0.12" textLength="120.5" lengthAdjust="spacingAndGlyphs">TradingView</text>
</svg>
</body></html>
